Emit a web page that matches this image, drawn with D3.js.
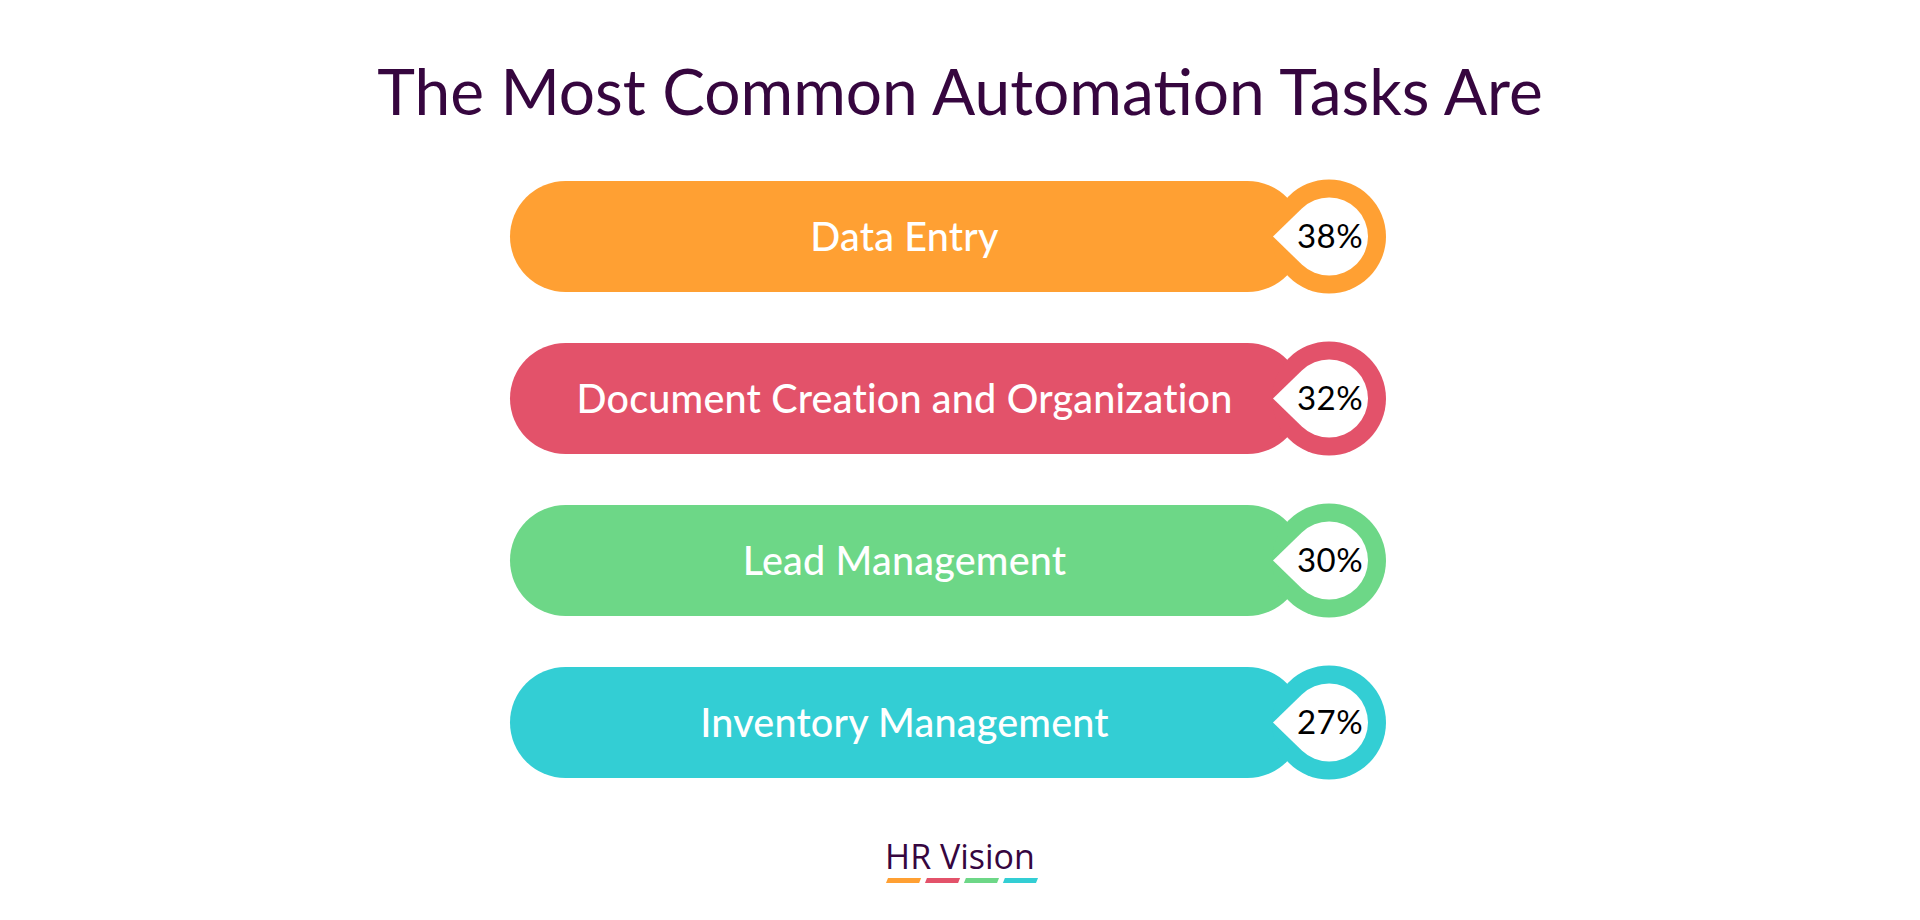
<!DOCTYPE html>
<html>
<head>
<meta charset="utf-8">
<script src="https://cdn.jsdelivr.net/npm/d3@7/dist/d3.min.js"></script>
<style>
  html, body { margin: 0; padding: 0; background: #ffffff; }
  svg { display: block; }
</style>
</head>
<body>
<svg id="chart" width="1920" height="920"></svg>
<script>
// ---- data ----
const categories = ["Data Entry", "Document Creation and Organization", "Lead Management", "Inventory Management"];
const values = [38, 32, 30, 27];
const valueLabels = ["38%", "32%", "30%", "27%"];
const colors = ["#FFA033", "#E3526A", "#6DD787", "#33CED4"];
const titleText = "The Most Common Automation Tasks Are";
const brandText = "HR Vision";

// ---- layout ----
const W = 1920, H = 920;
const svg = d3.select("#chart");
const purple = "#36063F";

const y = d3.scalePoint().domain(categories).range([236.5, 722.5]);
const x = d3.scaleLinear().domain([0, 1]).range([510, 1303]);

const barH = 111, capR = barH / 2;
const ringR = 57, holeR = 39, ringCx = 1329, tipX = 1273;

svg.append("text")
  .attr("x", W / 2).attr("y", 115)
  .attr("text-anchor", "middle")
  .attr("font-family", "Lato, 'Open Sans', sans-serif")
  .attr("font-size", 64)
  .attr("fill", purple)
  .text(titleText);

const rows = svg.selectAll("g.row")
  .data(categories.map((c, i) => ({ c, v: values[i], lbl: valueLabels[i], col: colors[i] })))
  .join("g").attr("class", "row")
  .attr("transform", d => `translate(0,${y(d.c)})`);

rows.append("rect")
  .attr("x", x(0)).attr("y", -barH / 2)
  .attr("width", x(1) - x(0)).attr("height", barH)
  .attr("rx", capR).attr("ry", capR)
  .attr("fill", d => d.col);

rows.append("circle")
  .attr("cx", ringCx).attr("cy", 0).attr("r", ringR)
  .attr("fill", d => d.col);

const dTip = ringCx - tipX;
const th = Math.acos(holeR / dTip);
const tx = ringCx - holeR * Math.cos(th), ty = holeR * Math.sin(th);
const tear = `M${tipX},0 L${tx},${-ty} A${holeR},${holeR} 0 1 1 ${tx},${ty} Z`;
rows.append("path").attr("d", tear).attr("fill", "#ffffff");

rows.append("text")
  .attr("x", (x(0) + x(1)) / 2 - 2).attr("y", 14)
  .attr("text-anchor", "middle")
  .attr("font-family", "Lato, sans-serif")
  .attr("font-weight", 500)
  .attr("font-size", 39.5)
  .attr("letter-spacing", 0.2)
  .attr("fill", "#ffffff")
  .text(d => d.c);

rows.append("text")
  .attr("x", ringCx + 1).attr("y", 11.5)
  .attr("text-anchor", "middle")
  .attr("font-family", "Lato, sans-serif")
  .attr("font-size", 33)
  .attr("letter-spacing", 0.5)
  .attr("fill", "#000000")
  .text(d => d.lbl);

// brand
svg.append("text")
  .attr("x", W / 2).attr("y", 869)
  .attr("text-anchor", "middle")
  .attr("font-family", "'Open Sans', sans-serif")
  .attr("font-size", 34)
  .attr("fill", purple)
  .text(brandText);

const seg = d3.scaleBand().domain(d3.range(colors.length)).range([886, 1036]).paddingInner(0.15);
svg.selectAll("path.seg").data(colors).join("path")
  .attr("class", "seg")
  .attr("d", (c, i) => {
    const x0 = seg(i), w = seg.bandwidth();
    return `M${x0 + 2},878 L${x0 + w + 2},878 L${x0 + w},883 L${x0},883 Z`;
  })
  .attr("fill", c => c);
</script>
</body>
</html>
